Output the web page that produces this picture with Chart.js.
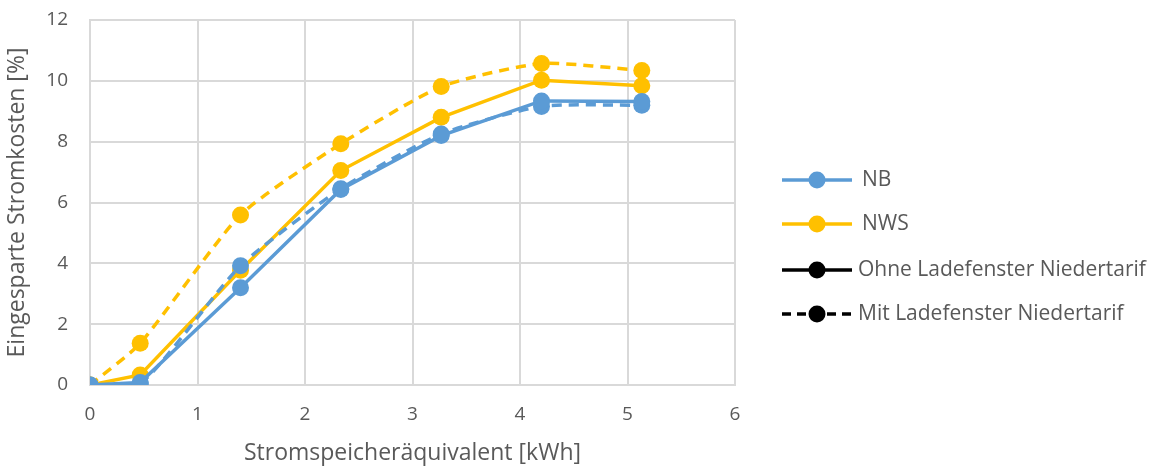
<!DOCTYPE html>
<html>
<head>
<meta charset="utf-8">
<script src="https://cdn.jsdelivr.net/npm/chart.js@4/dist/chart.umd.min.js"></script>
<style>
  html, body { margin: 0; padding: 0; background: #fff; }
  #wrap { width: 1157px; height: 471px; position: relative; }
</style>
</head>
<body>
<div id="wrap"><canvas id="chart"></canvas></div>
<script>
const xValues = [0, 0.467, 1.4, 2.333, 3.267, 4.2, 5.133];
const nbOhne = [0, 0.08, 3.2, 6.43, 8.2, 9.34, 9.32];
const nbMit = [0, 0.03, 3.92, 6.45, 8.25, 9.16, 9.2];
const nwsOhne = [0, 0.33, 3.77, 7.05, 8.8, 10.02, 9.84];
const nwsMit = [0, 1.37, 5.59, 7.93, 9.81, 10.57, 10.34];
const yTicks = [0, 2, 4, 6, 8, 10, 12];
const xTicks = [0, 1, 2, 3, 4, 5, 6];
const legendLabels = ['NB', 'NWS', 'Ohne Ladefenster Niedertarif', 'Mit Ladefenster Niedertarif'];

const BLUE = '#5B9BD5';
const YELLOW = '#FFC000';
const GRID = '#d9d9d9';
const TEXT = '#595959';
const FONT = '"Open Sans", sans-serif';

const toPoints = ys => ys.map((y, i) => ({ x: xValues[i], y: y }));

function series(label, ys, color, dashed) {
    return {
        label: label,
        data: toPoints(ys),
        borderColor: color,
        backgroundColor: color,
        borderWidth: 3.5,
        borderDash: dashed ? [10, 7] : [],
        tension: dashed ? 0.2 : 0,
        pointRadius: 8.5,
        pointHoverRadius: 8.5,
        pointBorderWidth: 0,
        fill: false
    };
}

// legend drawn by hand: line + marker, then text
const legendPlugin = {
    id: 'customLegend',
    afterDraw(chart) {
        const ctx = chart.ctx;
        const rows = [
            { color: BLUE, dash: [], y: 180, tx: 862 },
            { color: YELLOW, dash: [], y: 224, tx: 862 },
            { color: '#000', dash: [], y: 270, tx: 858 },
            { color: '#000', dash: [9, 6], y: 314, tx: 858 }
        ];
        ctx.save();
        rows.forEach((r, i) => {
            ctx.strokeStyle = r.color;
            ctx.lineWidth = 3.5;
            ctx.setLineDash(r.dash);
            ctx.beginPath();
            ctx.moveTo(782, r.y);
            ctx.lineTo(852, r.y);
            ctx.stroke();
            ctx.setLineDash([]);
            ctx.fillStyle = r.color;
            ctx.beginPath();
            ctx.arc(817, r.y, 8.5, 0, Math.PI * 2);
            ctx.fill();
            ctx.fillStyle = TEXT;
            ctx.font = '21px ' + FONT;
            ctx.textBaseline = 'middle';
            ctx.textAlign = 'left';
            ctx.fillText(legendLabels[i], r.tx, r.y);
        });
        ctx.restore();
    }
};

const ctx = document.getElementById('chart').getContext('2d');
new Chart(ctx, {
    type: 'line',
    data: {
        datasets: [
            series('NB', nbOhne, BLUE, false),
            series('NB mit', nbMit, BLUE, true),
            series('NWS', nwsOhne, YELLOW, false),
            series('NWS mit', nwsMit, YELLOW, true)
        ]
    },
    plugins: [legendPlugin],
    options: {
        responsive: true,
        maintainAspectRatio: false,
        animation: false,
        layout: { padding: { top: 0, right: 422, left: 0, bottom: 0 } },
        plugins: {
            legend: { display: false },
            tooltip: { enabled: false }
        },
        scales: {
            x: {
                type: 'linear',
                min: 0,
                max: 6,
                afterBuildTicks: s => { s.ticks = xTicks.map(v => ({ value: v })); },
                afterFit: s => { s.height = 86; },
                grid: { color: GRID, lineWidth: 2, drawTicks: false },
                border: { color: GRID, width: 2 },
                ticks: { color: TEXT, font: { size: 19, family: FONT }, padding: 18 },
                title: {
                    display: true,
                    text: 'Stromspeicheräquivalent [kWh]',
                    color: TEXT,
                    font: { size: 23, family: FONT },
                    padding: { top: 2 }
                }
            },
            y: {
                min: 0,
                max: 12,
                afterBuildTicks: s => { s.ticks = yTicks.map(v => ({ value: v })); },
                afterFit: s => { s.width = 90; s.paddingTop = 20; },
                grid: { color: GRID, lineWidth: 2, drawTicks: false },
                border: { color: GRID, width: 2 },
                ticks: { color: TEXT, font: { size: 19, family: FONT }, padding: 22 },
                title: {
                    display: true,
                    text: 'Eingesparte Stromkosten [%]',
                    color: TEXT,
                    font: { size: 23, family: FONT },
                    padding: { bottom: 0 }
                }
            }
        }
    }
});
</script>
</body>
</html>
